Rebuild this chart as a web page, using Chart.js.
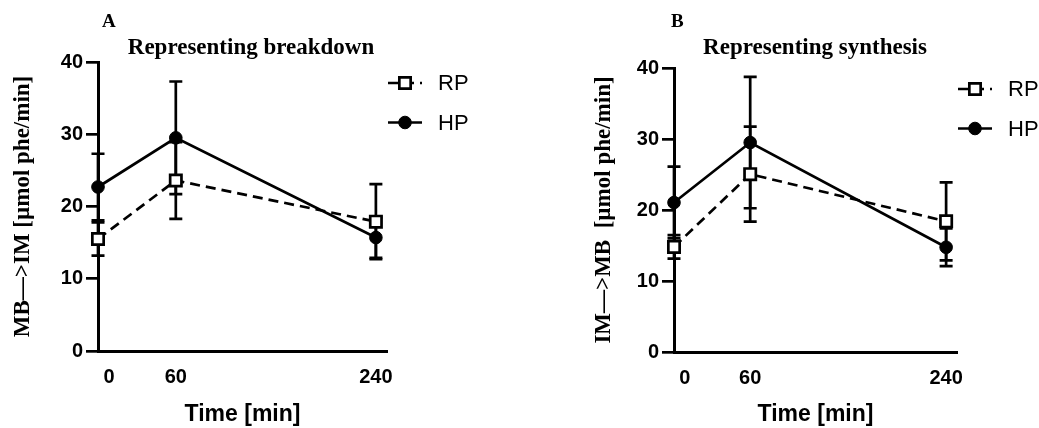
<!DOCTYPE html>
<html>
<head>
<meta charset="utf-8">
<title>Breakdown and synthesis</title>
<script src="https://cdn.jsdelivr.net/npm/chart.js@4.4.1/dist/chart.umd.min.js"></script>
<style>
  html, body { margin: 0; padding: 0; background: #ffffff; }
  #wrap { position: relative; width: 1039px; height: 428px; }
  canvas { position: absolute; top: 0; }
  #chartA { left: 0; }
  #chartB { left: 520px; }
</style>
</head>
<body>
<div id="wrap">
  <canvas id="chartA" width="520" height="428"></canvas>
  <canvas id="chartB" width="519" height="428"></canvas>
</div>
<script>
// sampling times (baseline drawn just before 0) and the labelled ticks
const sampleTimes = [-10, 60, 240];
const timeTicks = [0, 60, 240];
const seriesNames = ['RP', 'HP'];

// MB -> IM (breakdown)
const breakdownRP = [15.5, 23.6, 17.9];
const breakdownRPsd = [2.3, 5.3, 5.2];
const breakdownHP = [22.7, 29.5, 15.7];
const breakdownHPsd = [4.6, 7.8, 2.8];

// IM -> MB (synthesis)
const synthesisRP = [14.8, 25.05, 18.4];
const synthesisRPsd = [1.65, 6.7, 5.5];
const synthesisHP = [21.05, 29.5, 14.75];
const synthesisHPsd = [5.05, 9.25, 2.65];

const sansFont = "'Liberation Sans', Arial, sans-serif";
const serifFont = "'Liberation Serif', 'Times New Roman', serif";

function makePoints(values) {
    var pts = [];
    for (let i = 0; i < sampleTimes.length; i++) {
        pts.push({ x: sampleTimes[i], y: values[i] });
    }
    return pts;
}

// vertical error bars with caps, drawn under the markers
const errorBars = {
    id: 'errorBars',
    beforeDatasetsDraw(chart) {
        const ctx = chart.ctx;
        const xs = chart.scales.x;
        const ys = chart.scales.y;
        ctx.save();
        ctx.strokeStyle = '#000';
        ctx.lineWidth = 2.7;
        chart.data.datasets.forEach(function (ds) {
            ds.data.forEach(function (p, i) {
                const sd = ds.errors[i];
                const x = xs.getPixelForValue(p.x);
                const yHi = ys.getPixelForValue(p.y + sd);
                const yLo = ys.getPixelForValue(p.y - sd);
                ctx.beginPath();
                ctx.moveTo(x, yHi);
                ctx.lineTo(x, yLo);
                ctx.moveTo(x - 6.5, yHi);
                ctx.lineTo(x + 6.5, yHi);
                ctx.moveTo(x - 6.5, yLo);
                ctx.lineTo(x + 6.5, yLo);
                ctx.stroke();
            });
        });
        ctx.restore();
    }
};

// panel letter, heading and the line+marker legend on the right
const panelText = {
    id: 'panelText',
    afterDraw(chart, args, opts) {
        const ctx = chart.ctx;
        const area = chart.chartArea;
        ctx.save();
        ctx.fillStyle = '#000';
        ctx.textBaseline = 'alphabetic';

        ctx.font = 'bold 19px ' + serifFont;
        ctx.textAlign = 'left';
        ctx.fillText(opts.letter, opts.letterX, 27);

        ctx.font = 'bold 23px ' + serifFont;
        ctx.textAlign = 'center';
        ctx.fillText(opts.heading, opts.headingX, 54);

        chart.data.datasets.forEach(function (ds, i) {
            const y = area.top + 21 + i * 39.5;
            const x0 = area.right + 1;
            ctx.strokeStyle = '#000';
            ctx.lineWidth = 2.7;
            ctx.setLineDash(ds.borderDash || []);
            ctx.beginPath();
            ctx.moveTo(x0, y);
            ctx.lineTo(x0 + 34, y);
            ctx.stroke();
            ctx.setLineDash([]);
            ctx.fillStyle = ds.pointBackgroundColor;
            ctx.lineWidth = ds.pointBorderWidth;
            Chart.helpers.drawPoint(ctx, {
                pointStyle: ds.pointStyle,
                radius: ds.pointRadius,
                rotation: 0,
                borderWidth: ds.pointBorderWidth
            }, x0 + 17, y);
            ctx.fillStyle = '#000';
            ctx.font = '22px ' + sansFont;
            ctx.textAlign = 'left';
            ctx.textBaseline = 'middle';
            ctx.fillText(ds.label, x0 + 50, y + 1);
            ctx.textBaseline = 'alphabetic';
        });
        ctx.restore();
    }
};

function drawPanel(cfg) {
    const ctx = document.getElementById(cfg.canvasId);
    return new Chart(ctx, {
        type: 'line',
        data: {
            datasets: [{
                label: seriesNames[0],
                data: makePoints(cfg.rp),
                errors: cfg.rpSd,
                borderColor: '#000',
                borderWidth: 2.7,
                borderDash: [10, 6],
                pointStyle: 'rect',
                pointRadius: 8,
                pointBackgroundColor: '#fff',
                pointBorderColor: '#000',
                pointBorderWidth: 2.7,
                clip: false
            },
            {
                label: seriesNames[1],
                data: makePoints(cfg.hp),
                errors: cfg.hpSd,
                borderColor: '#000',
                borderWidth: 2.7,
                pointStyle: 'circle',
                pointRadius: 6.3,
                pointBackgroundColor: '#000',
                pointBorderColor: '#000',
                pointBorderWidth: 1,
                clip: false
            }]
        },
        options: {
            responsive: false,
            animation: false,
            layout: { padding: cfg.padding },
            plugins: {
                legend: { display: false },
                title: { display: false },
                tooltip: { enabled: false },
                panelText: { letter: cfg.letter, letterX: cfg.letterX, heading: cfg.heading, headingX: cfg.headingX }
            },
            scales: {
                x: {
                    type: 'linear',
                    min: -10,
                    max: 250,
                    afterBuildTicks: function (scale) {
                        scale.ticks = timeTicks.map(function (v) { return { value: v }; });
                    },
                    afterFit: function (scale) { scale.height = cfg.xAxisHeight; },
                    grid: { display: false, drawTicks: false },
                    border: { display: true, color: '#000', width: 3 },
                    ticks: {
                        color: '#000',
                        padding: 14,
                        maxRotation: 0,
                        font: { family: sansFont, size: 20, weight: 'bold' }
                    },
                    title: {
                        display: true,
                        text: 'Time [min]',
                        color: '#000',
                        padding: { top: 0, bottom: 0 },
                        font: { family: sansFont, size: 23, weight: 'bold' }
                    }
                },
                y: {
                    min: 0,
                    max: 40,
                    afterFit: function (scale) { scale.width = cfg.yAxisWidth; },
                    ticks: {
                        stepSize: 10,
                        color: '#000',
                        padding: 3,
                        font: { family: sansFont, size: 20, weight: 'bold' }
                    },
                    grid: {
                        display: true,
                        drawOnChartArea: false,
                        drawTicks: true,
                        tickLength: 12,
                        color: '#000',
                        lineWidth: 2.7
                    },
                    border: { display: true, color: '#000', width: 3 },
                    title: {
                        display: true,
                        text: cfg.yTitle,
                        color: '#000',
                        padding: { top: cfg.yTitlePad, bottom: 0 },
                        font: { family: serifFont, size: 23, weight: 'bold' }
                    }
                }
            }
        },
        plugins: [errorBars, panelText]
    });
}

drawPanel({
    canvasId: 'chartA',
    letter: 'A', letterX: 102,
    heading: 'Representing breakdown', headingX: 251,
    yTitle: 'MB\u2014>IM [\u00b5mol phe/min]',
    yTitlePad: 9,
    rp: breakdownRP, rpSd: breakdownRPsd,
    hp: breakdownHP, hpSd: breakdownHPsd,
    padding: { top: 62, right: 133, left: 0, bottom: 0 },
    yAxisWidth: 98,
    xAxisHeight: 77
});

drawPanel({
    canvasId: 'chartB',
    letter: 'B', letterX: 151,
    heading: 'Representing synthesis', headingX: 295,
    yTitle: 'IM\u2014>MB  [\u00b5mol phe/min]',
    yTitlePad: 10,
    rp: synthesisRP, rpSd: synthesisRPsd,
    hp: synthesisHP, hpSd: synthesisHPsd,
    padding: { top: 68, right: 82, left: 60, bottom: 0 },
    yAxisWidth: 94,
    xAxisHeight: 76
});
</script>
</body>
</html>
